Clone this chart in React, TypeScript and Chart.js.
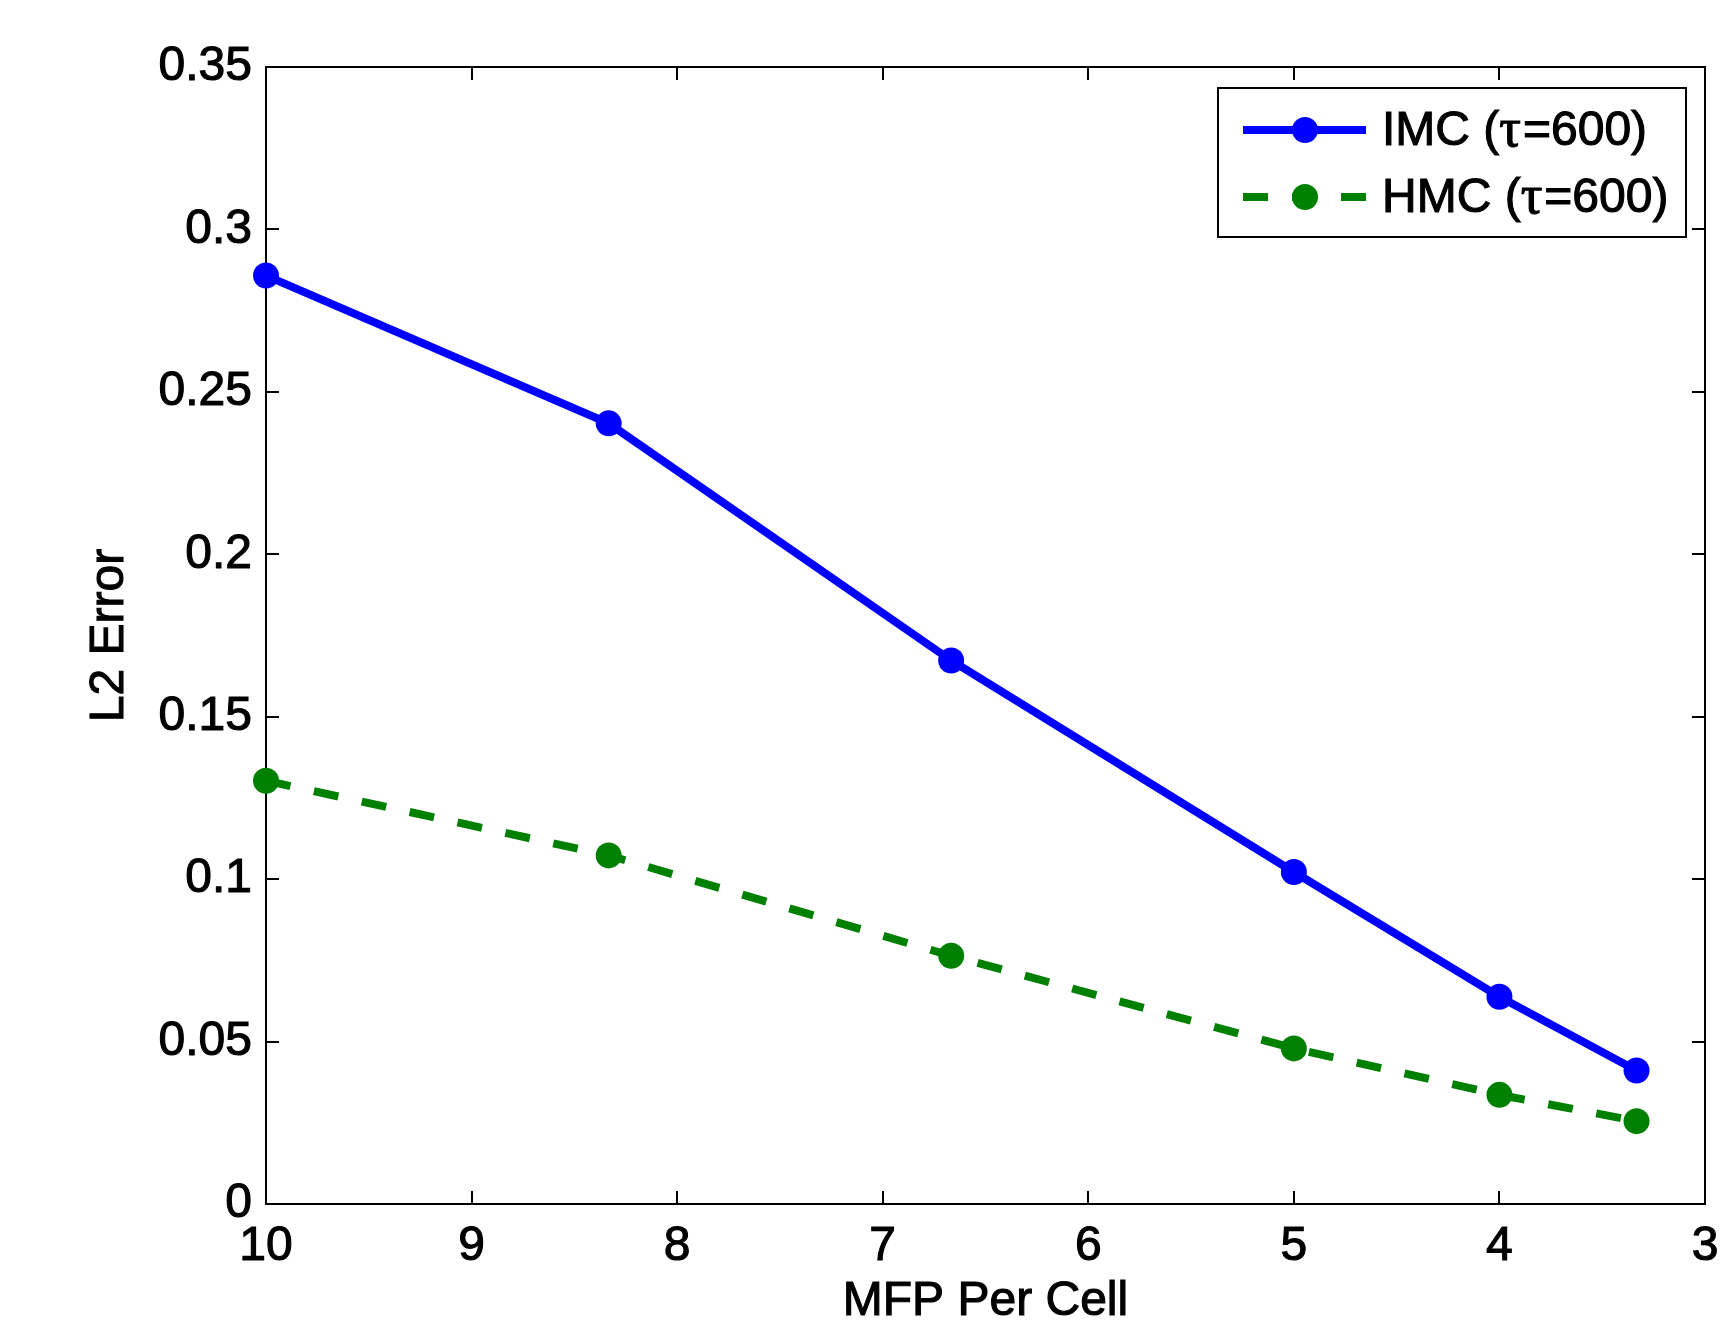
import React, { useEffect, useRef } from 'react';
import { Chart, registerables } from 'chart.js';

Chart.register(...registerables);

const mfpPerCell = [10, 8.333, 6.667, 5, 4, 3.333];
const imcError = [0.2858, 0.2403, 0.1673, 0.1022, 0.0638, 0.0411];
const hmcError = [0.1303, 0.1073, 0.0764, 0.0479, 0.0336, 0.0255];
const xTickValues = [10, 9, 8, 7, 6, 5, 4, 3];
const yTickValues = [0, 0.05, 0.1, 0.15, 0.2, 0.25, 0.3, 0.35];
const seriesNames = ['IMC', 'HMC'];
const seriesTau = '600';
const seriesColors = ['#0000ff', '#008000'];
const xTitle = 'MFP Per Cell';
const yTitle = 'L2 Error';

const FONT = '"Liberation Sans", Arial, Helvetica, sans-serif';
const SERIF = '"Liberation Serif", "DejaVu Serif", serif';
const STROKE = 1.1;

function heavyText(ctx: any, text: string, x: number, y: number) {
  ctx.fillText(text, x, y);
  ctx.strokeText(text, x, y);
}

const framePlugin = {
  id: 'framePlugin',
  beforeDatasetsDraw(chart: any) {
    const { ctx, chartArea: a, scales } = chart;
    const tl = 13;
    ctx.save();
    ctx.strokeStyle = '#000';
    ctx.lineWidth = 2;
    ctx.strokeRect(a.left, a.top, a.right - a.left, a.bottom - a.top);
    ctx.beginPath();
    xTickValues.forEach((v) => {
      const x = Math.round(scales.x.getPixelForValue(v));
      ctx.moveTo(x, a.bottom);
      ctx.lineTo(x, a.bottom - tl);
      ctx.moveTo(x, a.top);
      ctx.lineTo(x, a.top + tl);
    });
    yTickValues.forEach((v) => {
      const y = Math.round(scales.y.getPixelForValue(v));
      ctx.moveTo(a.left, y);
      ctx.lineTo(a.left + tl, y);
      ctx.moveTo(a.right, y);
      ctx.lineTo(a.right - tl, y);
    });
    ctx.stroke();

    ctx.fillStyle = '#000';
    ctx.strokeStyle = '#000';
    ctx.lineWidth = STROKE;
    ctx.font = `48px ${FONT}`;
    ctx.textAlign = 'center';
    ctx.textBaseline = 'middle';
    heavyText(ctx, xTitle, (a.left + a.right) / 2, 1302);
    ctx.save();
    ctx.translate(110, (a.top + a.bottom) / 2);
    ctx.rotate(-Math.PI / 2);
    heavyText(ctx, yTitle, 0, 0);
    ctx.restore();
    ctx.restore();
  },
  afterDatasetsDraw(chart: any) {
    const { ctx } = chart;
    const box = { left: 1218, top: 88, right: 1686, bottom: 237 };
    ctx.save();
    ctx.fillStyle = '#fff';
    ctx.fillRect(box.left, box.top, box.right - box.left, box.bottom - box.top);
    ctx.strokeStyle = '#000';
    ctx.lineWidth = 2;
    ctx.strokeRect(box.left, box.top, box.right - box.left, box.bottom - box.top);
    const rows = [130, 197];
    const x0 = 1243, x1 = 1366, xm = 1305;
    rows.forEach((y, i) => {
      ctx.strokeStyle = seriesColors[i];
      ctx.lineWidth = 8;
      ctx.setLineDash(i === 1 ? [25, 24] : []);
      ctx.beginPath();
      ctx.moveTo(x0, y);
      ctx.lineTo(x1, y);
      ctx.stroke();
      ctx.setLineDash([]);
      ctx.fillStyle = seriesColors[i];
      ctx.beginPath();
      ctx.arc(xm, y, 13, 0, Math.PI * 2);
      ctx.fill();
      ctx.fillStyle = '#000';
      ctx.strokeStyle = '#000';
      ctx.lineWidth = STROKE;
      ctx.textBaseline = 'middle';
      ctx.textAlign = 'left';
      let x = 1382;
      const parts: [string, string][] = [
        [`${seriesNames[i]} (`, FONT],
        ['\u03c4', SERIF],
        [`=${seriesTau})`, FONT],
      ];
      parts.forEach(([t, f]) => {
        ctx.font = f === SERIF ? `54px ${f}` : `48px ${f}`;
        heavyText(ctx, t, x, y + 2);
        x += ctx.measureText(t).width + (f === SERIF ? 2 : 0);
      });
    });
    ctx.restore();
  },
};

export default function App() {
  const ref = useRef<HTMLCanvasElement | null>(null);
  useEffect(() => {
    document.body.style.margin = '0';
    document.body.style.overflow = 'hidden';
    const canvas = ref.current;
    if (!canvas) return;
    const tickOpts = {
      color: '#000',
      font: { family: FONT, size: 48 },
      textStrokeColor: '#000',
      textStrokeWidth: STROKE,
      autoSkip: false,
      maxRotation: 0,
    };
    const chart = new Chart(canvas, {
      type: 'line',
      data: {
        datasets: [
          {
            label: `${seriesNames[0]} (\u03c4=${seriesTau})`,
            data: mfpPerCell.map((x, i) => ({ x, y: imcError[i] })),
            borderColor: seriesColors[0],
            backgroundColor: seriesColors[0],
            borderWidth: 8,
            pointRadius: 13,
            pointBorderWidth: 0,
            pointBackgroundColor: seriesColors[0],
            tension: 0,
            clip: false as any,
          },
          {
            label: `${seriesNames[1]} (\u03c4=${seriesTau})`,
            data: mfpPerCell.map((x, i) => ({ x, y: hmcError[i] })),
            borderColor: seriesColors[1],
            backgroundColor: seriesColors[1],
            borderWidth: 8,
            borderDash: [25, 24],
            pointRadius: 13,
            pointBorderWidth: 0,
            pointBackgroundColor: seriesColors[1],
            tension: 0,
            clip: false as any,
          },
        ],
      },
      options: {
        animation: false,
        responsive: false,
        devicePixelRatio: 1,
        layout: { padding: { top: 67, right: 23, left: 0, bottom: 0 } },
        plugins: { legend: { display: false }, tooltip: { enabled: false } },
        scales: {
          x: {
            type: 'linear',
            reverse: true,
            min: 3,
            max: 10,
            afterBuildTicks: (s: any) => {
              s.ticks = xTickValues.map((v) => ({ value: v }));
            },
            afterFit: (s: any) => {
              s.height = 125;
              s.paddingLeft = 0;
              s.paddingRight = 0;
            },
            grid: { display: false, drawTicks: false },
            border: { display: false },
            ticks: {
              ...tickOpts,
              padding: 14,
              callback: (v: any) => String(v),
            },
            title: { display: false },
          },
          y: {
            type: 'linear',
            min: 0,
            max: 0.35,
            afterBuildTicks: (s: any) => {
              s.ticks = yTickValues.map((v) => ({ value: v }));
            },
            afterFit: (s: any) => {
              s.width = 266;
              s.paddingTop = 0;
              s.paddingBottom = 0;
            },
            grid: { display: false, drawTicks: false },
            border: { display: false },
            ticks: {
              ...tickOpts,
              padding: 14,
              callback: (v: any) => String(+Number(v).toFixed(2)),
            },
            title: { display: false },
          },
        },
      },
      plugins: [framePlugin],
    });
    return () => chart.destroy();
  }, []);
  return (
    <div style={{ width: 1728, height: 1329, background: '#fff' }}>
      <canvas ref={ref} width={1728} height={1329} style={{ display: 'block' }} />
    </div>
  );
}
